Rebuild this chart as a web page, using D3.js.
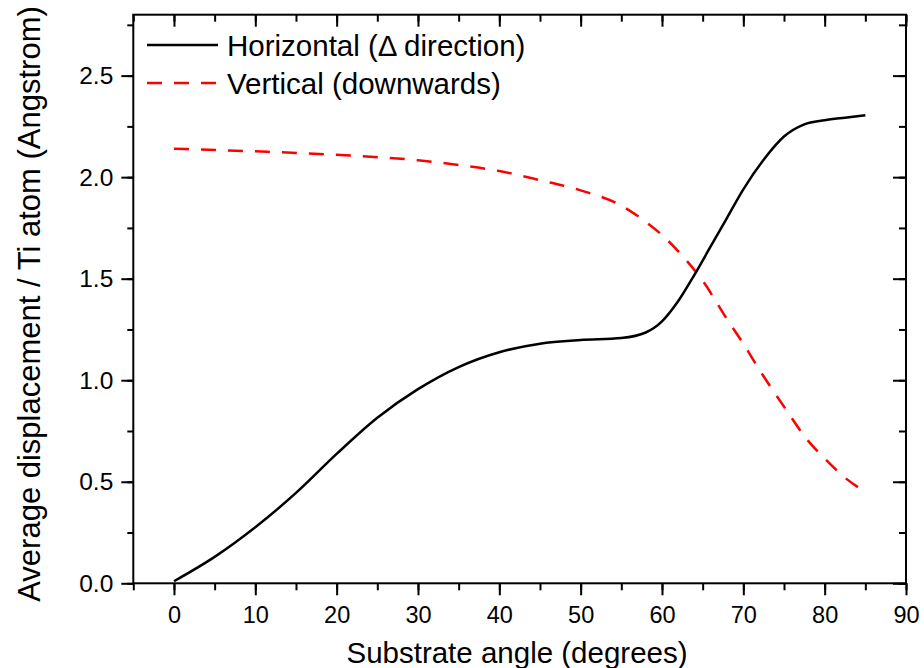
<!DOCTYPE html>
<html>
<head>
<meta charset="utf-8">
<script src="https://cdn.jsdelivr.net/npm/d3@7"></script>
<style>
  body { margin: 0; background: #fff; }
  svg text { font-family: "Liberation Sans", Arial, sans-serif; fill: #000; }
</style>
</head>
<body>
<div id="chart"></div>
<script>
// substrate angle (degrees) and average displacement per Ti atom (Angstrom)
var horizAngle = [0, 5, 10, 15, 20, 25, 30, 35, 40, 45, 50, 55, 58, 60, 62, 64, 66, 68, 70, 72.5, 75, 77.5, 80, 82.5, 85];
var horizDisp  = [0.01, 0.13, 0.276, 0.445, 0.637, 0.815, 0.956, 1.065, 1.138, 1.18, 1.198, 1.208, 1.235, 1.29, 1.39, 1.52, 1.66, 1.8, 1.94, 2.086, 2.2, 2.26, 2.28, 2.293, 2.305];
var vertAngle = [0, 10, 20, 30, 35, 40, 45, 50, 55, 58, 60, 63, 65, 68, 70, 72, 75, 78, 80, 82.5, 85];
var vertDisp  = [2.14, 2.127, 2.11, 2.083, 2.06, 2.03, 1.985, 1.935, 1.86, 1.78, 1.715, 1.59, 1.49, 1.3, 1.18, 1.05, 0.87, 0.7, 0.615, 0.52, 0.45];
var seriesNames = ['Horizontal (\u0394 direction)', 'Vertical (downwards)'];
var xTicks = [0, 10, 20, 30, 40, 50, 60, 70, 80, 90];
var yTicks = [0, 0.5, 1.0, 1.5, 2.0, 2.5];

var width = 924, height = 668;
var margin = {top: 14.7, right: 18, bottom: 84.7, left: 133.3};
var w = width - margin.left - margin.right;
var h = height - margin.top - margin.bottom;

var svg = d3.select('#chart').append('svg')
	.attr('width', width)
	.attr('height', height);

var g = svg.append('g')
	.attr('transform', 'translate(' + margin.left + ',' + margin.top + ')');

var x = d3.scaleLinear().domain([-5, 90]).range([0, w]);
var y = d3.scaleLinear().domain([0, 2.8]).range([h, 0]);

var xMinor = d3.range(-5, 91, 5);
var yMinor = d3.range(0, 2.81, 0.25);

function styleAxis(size){
	return function(sel){
		sel.select('.domain').remove();
		sel.selectAll('line').attr('stroke', '#000').attr('stroke-width', 2);
		sel.selectAll('text').attr('font-size', size + 'px');
	};
}

// minor ticks
g.append('g').attr('transform', 'translate(0,' + h + ')')
	.call(d3.axisBottom(x).tickValues(xMinor).tickSize(7).tickFormat(''))
	.call(styleAxis(23));
g.append('g')
	.call(d3.axisBottom(x).tickValues(xMinor).tickSize(7).tickFormat(''))
	.call(styleAxis(23));
g.append('g')
	.call(d3.axisLeft(y).tickValues(yMinor).tickSize(6).tickFormat(''))
	.call(styleAxis(23));
g.append('g').attr('transform', 'translate(' + w + ',0)')
	.call(d3.axisLeft(y).tickValues(yMinor).tickSize(7).tickFormat(''))
	.call(styleAxis(23));

// major ticks + labels
g.append('g').attr('transform', 'translate(0,' + h + ')')
	.call(d3.axisBottom(x).tickValues(xTicks).tickSize(12).tickPadding(11).tickFormat(d3.format('d')))
	.call(styleAxis(23.5));
g.append('g')
	.call(d3.axisBottom(x).tickValues(xTicks).tickSize(12).tickFormat(''))
	.call(styleAxis(23));
g.append('g')
	.call(d3.axisLeft(y).tickValues(yTicks).tickSize(12).tickPadding(8).tickFormat(d3.format('.1f')))
	.call(styleAxis(24.5));
g.append('g').attr('transform', 'translate(' + w + ',0)')
	.call(d3.axisLeft(y).tickValues(yTicks).tickSize(13).tickFormat(''))
	.call(styleAxis(23));

// frame
g.append('rect')
	.attr('width', w).attr('height', h)
	.attr('fill', 'none')
	.attr('stroke', '#000')
	.attr('stroke-width', 2);

var line = d3.line()
	.x(function(d){ return x(d[0]); })
	.y(function(d){ return y(d[1]); })
	.curve(d3.curveMonotoneX);

g.append('path')
	.datum(d3.zip(vertAngle, vertDisp))
	.attr('d', line)
	.attr('fill', 'none')
	.attr('stroke', '#ff0000')
	.attr('stroke-width', 2.5)
	.attr('stroke-dasharray', '15,12');

g.append('path')
	.datum(d3.zip(horizAngle, horizDisp))
	.attr('d', line)
	.attr('fill', 'none')
	.attr('stroke', '#000')
	.attr('stroke-width', 2.5);

// legend
var legend = svg.append('g');
var legendStyles = [{c: '#000', dash: null}, {c: '#ff0000', dash: '15,12'}];
seriesNames.forEach(function(name, i){
	var ly = 45 + i * 38;
	legend.append('line')
		.attr('x1', 147).attr('x2', 218)
		.attr('y1', ly).attr('y2', ly)
		.attr('stroke', legendStyles[i].c)
		.attr('stroke-width', 2.5)
		.attr('stroke-dasharray', legendStyles[i].dash);
	legend.append('text')
		.attr('x', 227).attr('y', ly + 10.5)
		.attr('font-size', '29.5px')
		.text(name);
});

// axis titles
svg.append('text')
	.attr('x', 517).attr('y', 663)
	.attr('text-anchor', 'middle')
	.attr('font-size', '29.5px')
	.text('Substrate angle (degrees)');

svg.append('text')
	.attr('transform', 'translate(40,' + (margin.top + h / 2 + 5) + ') rotate(-90)')
	.attr('text-anchor', 'middle')
	.attr('font-size', '31px')
	.text('Average displacement / Ti atom (Angstrom)');
</script>
</body>
</html>
